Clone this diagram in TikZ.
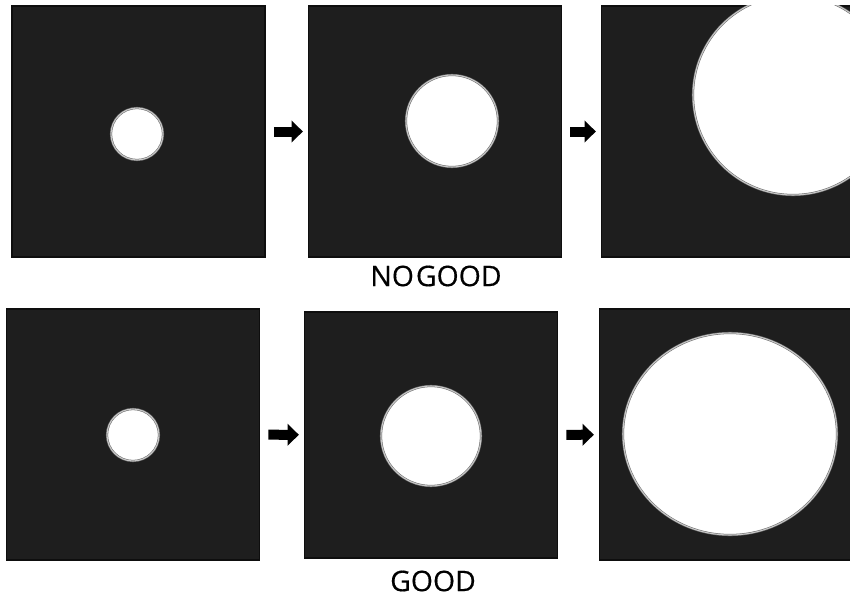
\documentclass[tikz,border=0pt]{standalone}
\usepackage{fontspec}
\newfontfamily\capfont[FakeBold=0.4]{Open Sans}
\usetikzlibrary{arrows.meta, positioning}
\definecolor{film}{HTML}{1E1E1E}
\definecolor{frame}{HTML}{0E0E0E}
\definecolor{halo}{HTML}{6A6A6A}
\definecolor{halo2}{HTML}{C8C8C8}

\begin{document}
\begin{tikzpicture}[
  x=0.75pt, y=-0.75pt,
  panel/.style={draw=frame, line width=1.2pt, fill=film, inner sep=0pt,
                minimum width=190pt, minimum height=188pt},
  blob/.style={fill=white, draw=halo, line width=1.6pt,
               postaction={draw=halo2, line width=0.8pt}},
  push/.style={-{Triangle[length=8.5pt, width=16pt]}, draw=black, line width=7.5pt,
               shorten <=6pt, shorten >=3.5pt},
  verdict/.style={font=\capfont\fontsize{21.3}{25}\selectfont, color=black, inner sep=0pt}
]
  \useasboundingbox (0,0) rectangle (850,596);

  % growing spot, first run
  \node[panel] (p1) at (138.5,131.5) {};
  \node[panel] (p2) at (435,131.5) {};
  \node[panel] (p3) at (728,131.5) {};
  % growing spot, second run
  \node[panel] (p4) at (133,434.5) {};
  \node[panel, minimum height=184.5pt] (p5) at (431,435) {};
  \node[panel] (p6) at (726,434.5) {};

  \draw[blob] (137,134) circle[radius=26];
  \draw[blob] (452,121) circle[radius=46];
  \begin{scope}
    \clip (p3.south west) rectangle (p3.north east);
    \draw[blob] (793,95) circle[radius=100];
  \end{scope}
  \draw[blob] (133,435) circle[radius=26];
  \draw[blob] (431,436) circle[radius=50];
  \draw[blob] (730,434) ellipse[x radius=107, y radius=101];

  \draw[push] (p1) -- (p2);
  \draw[push] (p2) -- (p3);
  \draw[push] (p4) -- (p5);
  \draw[push] (p5) -- (p6);

  \node[verdict] (bad) at (436,276) {NO\hspace{1.5pt}GOOD};
  \node[verdict] (ok) at (433,581) {GOOD};
\end{tikzpicture}
\end{document}
